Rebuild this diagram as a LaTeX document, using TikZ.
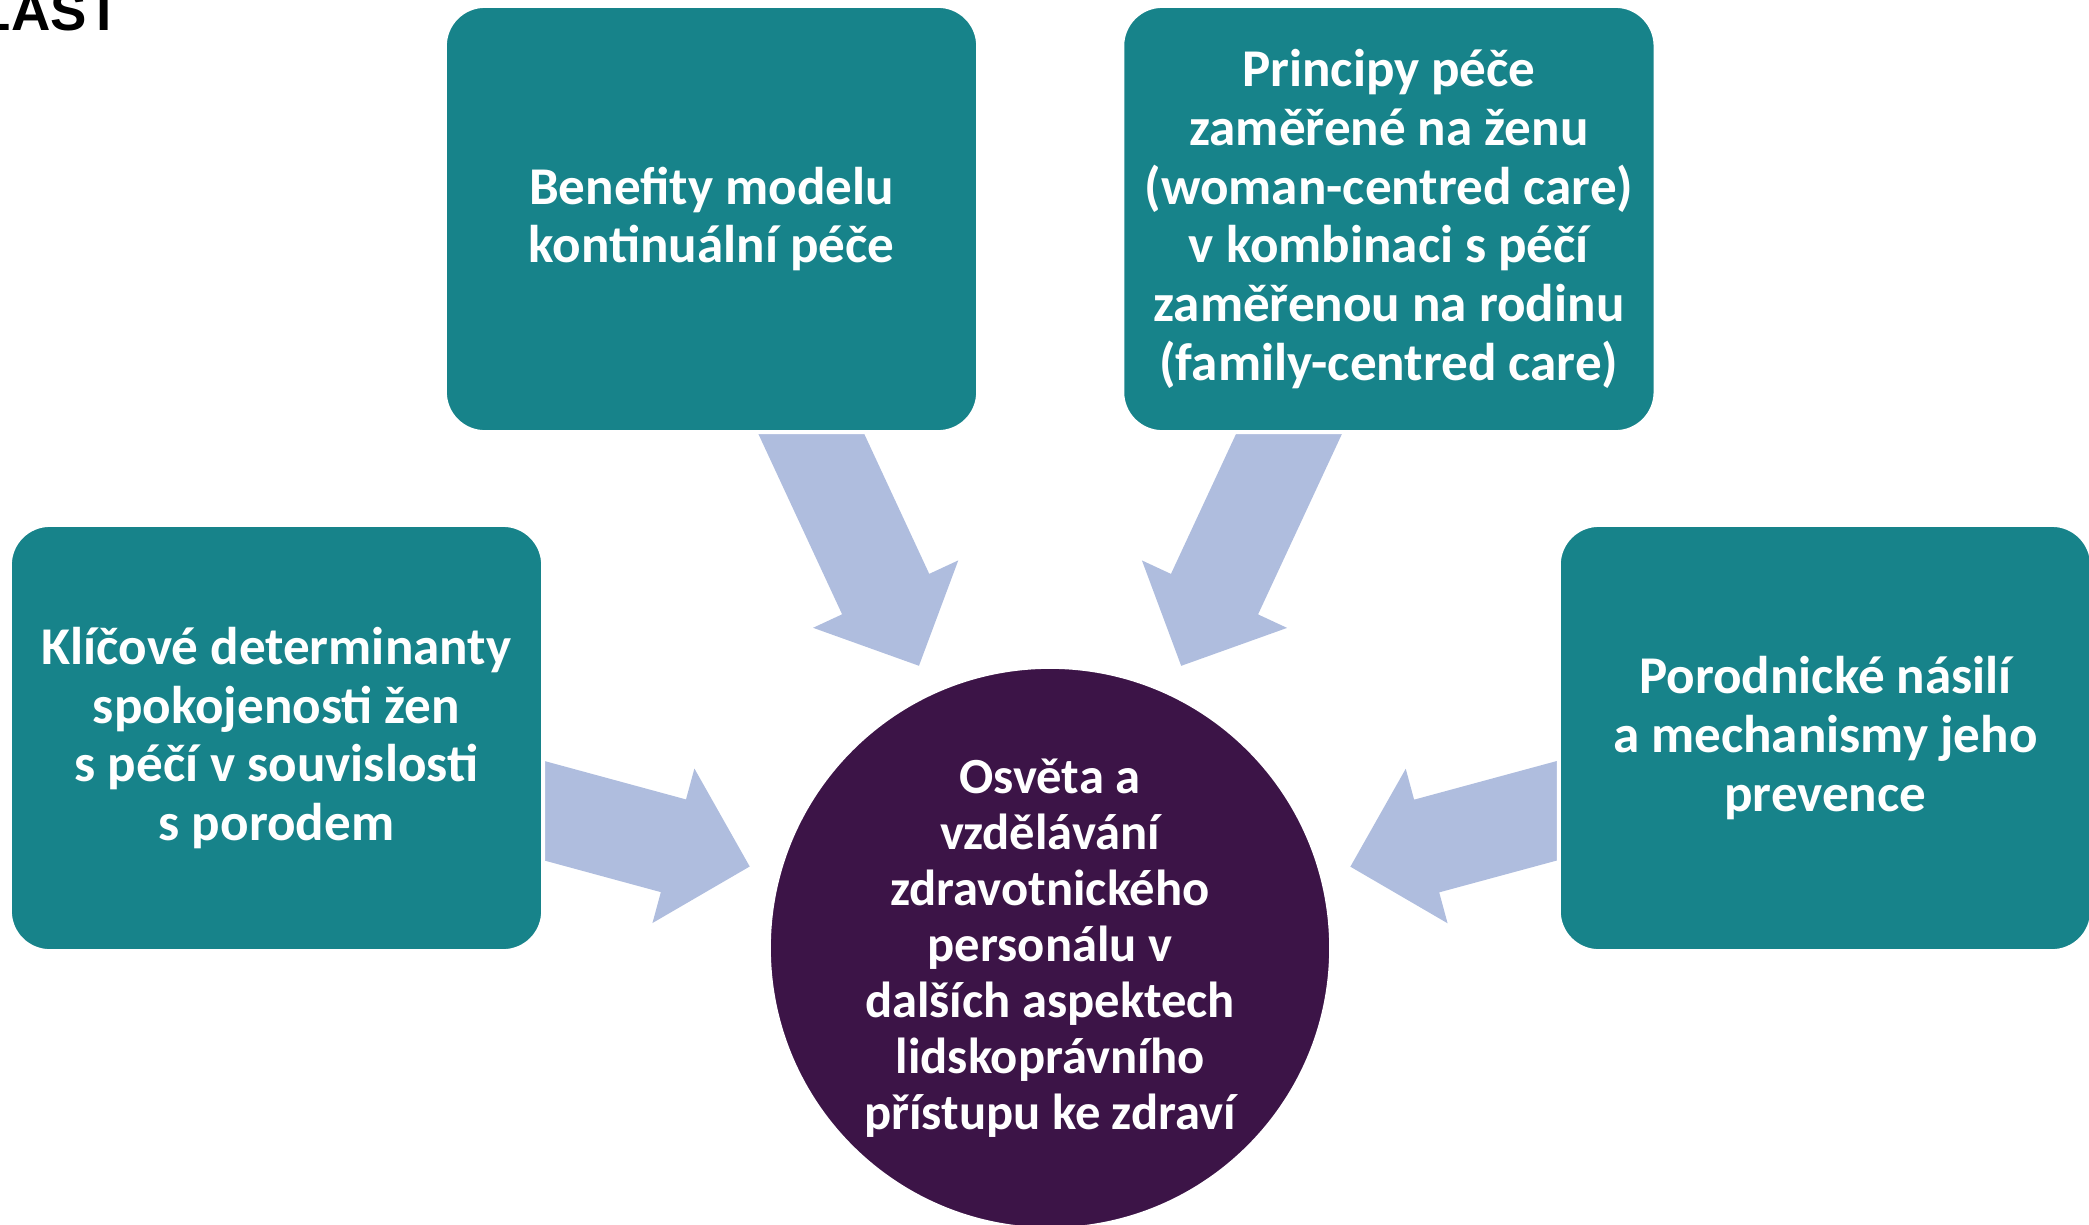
\documentclass[tikz,border=0pt]{standalone}
\usepackage{fontspec}
\setmainfont{Carlito}
\newfontfamily\headfont{Liberation Sans}
\usepackage{xcolor}
\definecolor{oblTeal}{HTML}{17838A}
\definecolor{oblPurple}{HTML}{3C1447}
\definecolor{oblArrow}{HTML}{AFBDDE}
\usepackage{tikz}
\usetikzlibrary{positioning,calc,backgrounds}
\tikzset{
    topic/.style={
        draw=white,
        fill=oblTeal,
        rectangle,
        rounded corners=0.4cm,
        line width=0.04cm,
        align=center,
        minimum width=5.33cm,
        minimum height=4.26cm,
        text=white,
        font=\fontsize{15.1}{16.7}\selectfont\bfseries
    },
    hub/.style={
        draw=white,
        fill=oblPurple,
        circle,
        line width=0.04cm,
        minimum size=5.62cm,
        inner sep=0pt,
        align=center,
        text=white,
        font=\fontsize{14.4}{15.9}\selectfont\bfseries
    },
    flow/.style={
        fill=oblArrow
    },
    heading/.style={
        anchor=base east,
        inner sep=0pt,
        font=\headfont\bfseries\fontsize{15.5}{17}\selectfont
    }
}

\begin{document}
\begin{tikzpicture}[x=0.01cm, y=-0.01cm]
    \useasboundingbox (0,0) rectangle (2089,1224);
    \node[heading] (title) at (121,31) {LAST};

    \node[hub] (hub) at (1050,948) {Osvěta a\\vzdělávání\\zdravotnického\\personálu v\\dalších aspektech\\lidskoprávního\\přístupu ke zdraví};
    \node[topic] (benefit) at (711.5,219) {Benefity modelu\\kontinuální péče};
    \node[topic, right=1.40cm of benefit] (principles) {Principy péče\\zaměřené na ženu\\(woman-centred care)\\v kombinaci s péčí\\zaměřenou na rodinu\\(family-centred care)};
    \node[topic] (satisfaction) at (276.5,738) {Klíčové determinanty\\spokojenosti žen\\s péčí v souvislosti\\s porodem};
    \node[topic, right=10.11cm of satisfaction] (violence) {Porodnické násilí\\a mechanismy jeho\\prevence};

    % block arrows towards the hub
    \begin{scope}[on background layer]
        \foreach \src in {benefit, principles, satisfaction, violence} {
            \path ($(hub.center)!6.2cm!(\src.center)$) coordinate (tail)
                  ($(hub.center)!3.9cm!(\src.center)$) coordinate (neck)
                  ($(hub.center)!3.11cm!(\src.center)$) coordinate (tip);
            \fill[flow] ($(tail)!0.48cm!90:(tip)$) -- ($(neck)!0.48cm!90:(tip)$)
                -- ($(neck)!0.8cm!90:(tip)$) -- (tip) -- ($(neck)!0.8cm!-90:(tip)$)
                -- ($(neck)!0.48cm!-90:(tip)$) -- ($(tail)!0.48cm!-90:(tip)$) -- cycle;
        }
    \end{scope}
\end{tikzpicture}
\end{document}
